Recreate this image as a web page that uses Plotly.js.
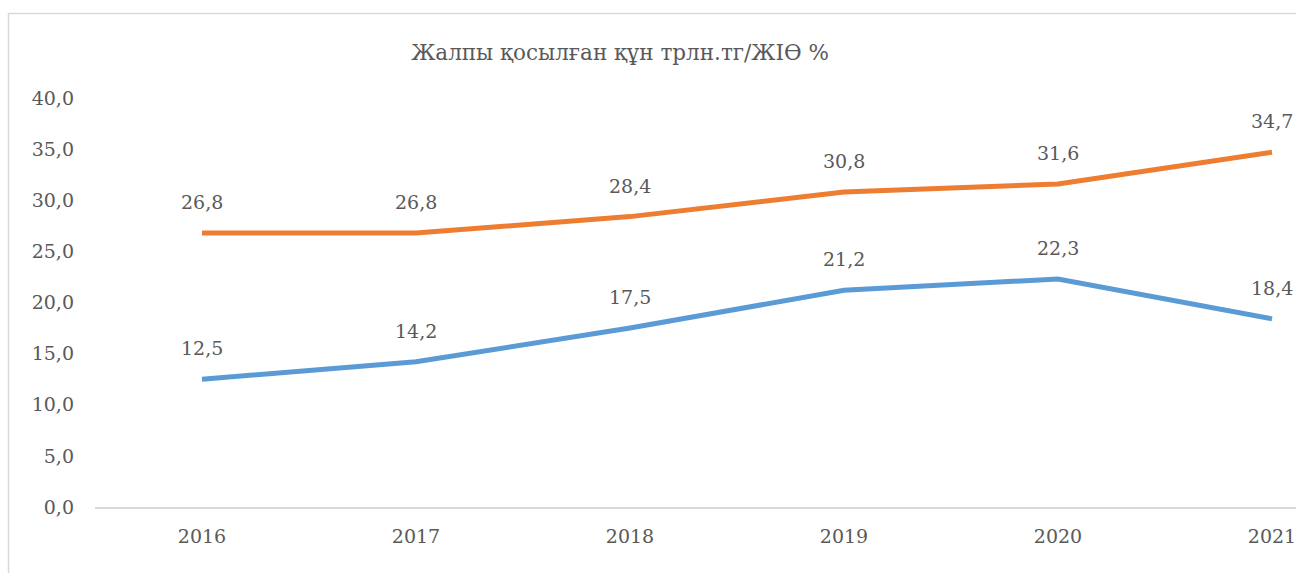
<!DOCTYPE html>
<html>
<head>
<meta charset="utf-8">
<script src="https://cdn.plot.ly/plotly-3.0.1.min.js"></script>
<style>html,body{margin:0;padding:0;background:#fff;overflow:hidden}#chart{width:1296px;height:573px}</style>
</head>
<body>
<div id="chart"></div>
<script>
const years = ['2016', '2017', '2018', '2019', '2020', '2021'];
const seriesOrange = [26.8, 26.8, 28.4, 30.8, 31.6, 34.7];
const seriesBlue = [12.5, 14.2, 17.5, 21.2, 22.3, 18.4];
const titleText = 'Жалпы қосылған құн трлн.тг/ЖІӨ %';

const fontFamily = 'DejaVu Serif';
const textColor = '#595959';
const fmt = v => v.toFixed(1).replace('.', ',');

const traces = [
  {x: years, y: seriesBlue, type: 'scatter', mode: 'lines',
   line: {color: '#5B9BD5', width: 5}, hoverinfo: 'skip'},
  {x: years, y: seriesOrange, type: 'scatter', mode: 'lines',
   line: {color: '#ED7D31', width: 5}, hoverinfo: 'skip'}
];

const annotations = [];
[seriesBlue, seriesOrange].forEach(s => {
  s.forEach((v, i) => {
    annotations.push({x: i, y: v, xref: 'x', yref: 'y', text: fmt(v),
      showarrow: false, yshift: 31, font: {family: fontFamily, size: 19, color: textColor}});
  });
});

const layout = {
  width: 1296, height: 573,
  margin: {l: 95, r: 0, t: 98, b: 66},
  paper_bgcolor: '#fff', plot_bgcolor: '#fff',
  separators: ', ',
  showlegend: false,
  title: {text: titleText, x: 620/1296, xanchor: 'center', y: 1 - 52/573, yanchor: 'middle',
    font: {family: fontFamily, size: 21.5, color: textColor}},
  xaxis: {type: 'category', range: [-0.5, (1296 - 95) / 214 - 0.5], showgrid: false, zeroline: false,
    showline: true, linecolor: '#d9d9d9', linewidth: 1.5, ticks: '', ticklabelstandoff: 11,
    tickfont: {family: fontFamily, size: 19, color: textColor}, fixedrange: true},
  yaxis: {range: [0, 40], dtick: 5, tick0: 0, tickformat: '.1f', showgrid: false, zeroline: false,
    showline: false, ticks: '', ticklabelstandoff: 20,
    tickfont: {family: fontFamily, size: 19, color: textColor}, fixedrange: true},
  annotations: annotations,
  shapes: [{type: 'rect', xref: 'paper', yref: 'paper',
    x0: (8.5 - 95) / 1201, x1: 1.2, y0: -0.3, y1: (507 - 13.5) / 409,
    line: {color: '#d9d9d9', width: 1.5}, layer: 'below'}]
};

Plotly.newPlot('chart', traces, layout, {displayModeBar: false});
</script>
</body>
</html>
